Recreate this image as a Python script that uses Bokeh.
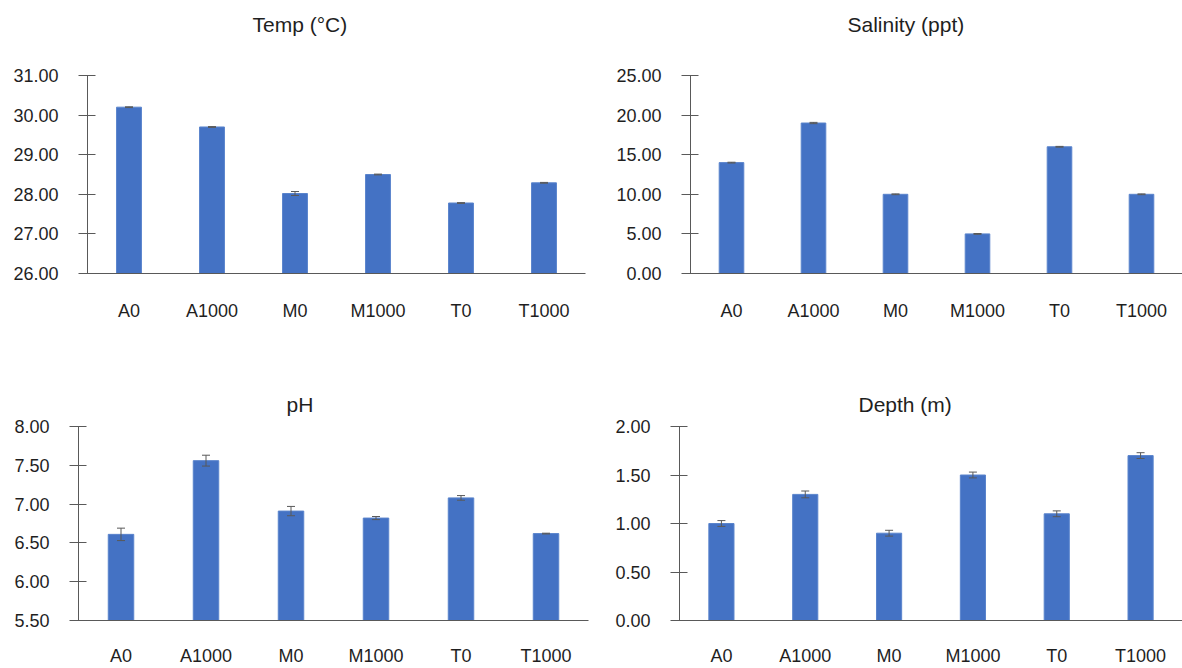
from bokeh.plotting import figure
from bokeh.models import (ColumnDataSource, FactorRange, Range1d, SingleIntervalTicker,
                          PrintfTickFormatter, Whisker, TeeHead, Title)
from bokeh.layouts import column, row
from bokeh.embed import file_html
from bokeh.resources import INLINE

sites = ["A0", "A1000", "M0", "M1000", "T0", "T1000"]

temp = [30.20, 29.70, 28.02, 28.50, 27.78, 28.29]
temp_err = [0.01, 0.01, 0.05, 0.01, 0.01, 0.01]

salinity = [14.0, 19.0, 10.0, 5.0, 16.0, 10.0]
salinity_err = [0.05, 0.08, 0.05, 0.05, 0.05, 0.05]

ph = [6.61, 7.56, 6.91, 6.82, 7.08, 6.62]
ph_err = [0.08, 0.07, 0.06, 0.02, 0.03, 0.005]

depth = [1.00, 1.30, 0.90, 1.50, 1.10, 1.70]
depth_err = [0.03, 0.035, 0.03, 0.03, 0.03, 0.03]

FONT = "Liberation Sans"
BAR = "#4472C4"
AXIS = "#595959"
TEXT = "#1f1f1f"


def panel(title, vals, errs, ymin, ymax, step, width, height,
          left, right, top, bottom, title_offset, title_standoff, spacer, label_standoff):
    src = ColumnDataSource(dict(
        x=sites, top=vals,
        upper=[v + e for v, e in zip(vals, errs)],
        lower=[v - e for v, e in zip(vals, errs)],
    ))
    p = figure(x_range=FactorRange(factors=sites, range_padding=0),
               y_range=Range1d(ymin, ymax), title=None,
               width=width, height=height, output_backend="svg",
               toolbar_location=None, tools="",
               min_border_left=left, min_border_right=right,
               min_border_top=top, min_border_bottom=bottom)
    if spacer:
        p.add_layout(Title(text=" ", text_font_size="1px", standoff=spacer), "above")
    p.add_layout(Title(text=title, align="left", offset=title_offset,
                       standoff=title_standoff, text_font=FONT,
                       text_font_size="21px", text_font_style="normal",
                       text_color=TEXT), "above")
    p.vbar(x="x", top="top", bottom=ymin, width=0.3, source=src,
           fill_color=BAR, line_color="#5A84CC", line_width=1)
    w = Whisker(base="x", upper="upper", lower="lower", source=src,
                line_color=AXIS, line_width=1, level="annotation",
                upper_head=TeeHead(size=8, line_color=AXIS, line_width=1),
                lower_head=TeeHead(size=8, line_color=AXIS, line_width=1))
    p.add_layout(w)

    p.grid.visible = False
    p.outline_line_color = None
    p.background_fill_color = "white"

    p.xaxis.major_tick_line_color = None
    p.xaxis.minor_tick_line_color = None
    p.xaxis.axis_line_color = AXIS
    p.xaxis.major_label_standoff = label_standoff
    p.xaxis.major_label_text_font = FONT
    p.xaxis.major_label_text_font_size = "18px"
    p.xaxis.major_label_text_color = TEXT

    p.yaxis.ticker = SingleIntervalTicker(interval=step)
    p.yaxis.formatter = PrintfTickFormatter(format="%.2f")
    p.yaxis.minor_tick_line_color = None
    p.yaxis.major_tick_in = 8
    p.yaxis.major_tick_out = 9
    p.yaxis.major_tick_line_color = AXIS
    p.yaxis.axis_line_color = AXIS
    p.yaxis.major_label_standoff = 20
    p.yaxis.major_label_text_font = FONT
    p.yaxis.major_label_text_font_size = "18px"
    p.yaxis.major_label_text_color = TEXT
    return p


p1 = panel("Temp (°C)", temp, temp_err, 26, 31, 1, 598, 345,
           87, 13, 75, 72, 165, 0, 37, 21)
p2 = panel("Salinity (ppt)", salinity, salinity_err, 0, 25, 5, 584, 345,
           92, 0, 75, 72, 157, 0, 37, 21)
p3 = panel("pH", ph, ph_err, 5.5, 8.0, 0.5, 598, 323,
           78, 10, 81, 46, 208, 22, 0, 19)
p4 = panel("Depth (m)", depth, depth_err, 0, 2.0, 0.5, 584, 323,
           81, 0, 81, 46, 179, 22, 0, 19)

layout = column(row(p1, p2), row(p3, p4))
open("out.html", "w").write(file_html(layout, INLINE))
